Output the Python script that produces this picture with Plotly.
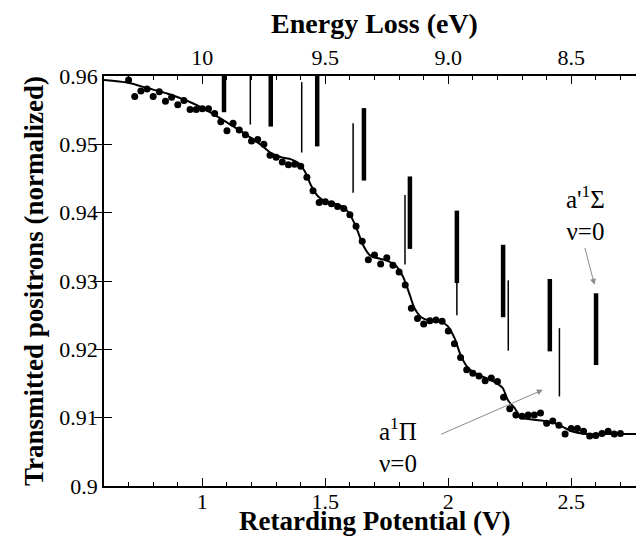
import plotly.graph_objects as go

# ---------------- data ----------------
voltage = [0.700, 0.725, 0.750, 0.775, 0.800, 0.825, 0.850, 0.875, 0.900, 0.925,
           0.950, 0.975, 1.000, 1.025, 1.050, 1.075, 1.100, 1.125, 1.150, 1.175,
           1.200, 1.225, 1.250, 1.275, 1.300, 1.325, 1.350, 1.375, 1.400, 1.425,
           1.450, 1.475, 1.500, 1.525, 1.550, 1.575, 1.600, 1.625, 1.650, 1.675,
           1.700, 1.725, 1.750, 1.775, 1.800, 1.825, 1.850, 1.875, 1.900, 1.925,
           1.950, 1.975, 2.000, 2.025, 2.050, 2.075, 2.100, 2.125, 2.150, 2.175,
           2.200, 2.225, 2.250, 2.275, 2.300, 2.325, 2.350, 2.375, 2.400, 2.425,
           2.450, 2.475, 2.500, 2.525, 2.550, 2.575, 2.600, 2.625, 2.650, 2.675,
           2.700]
transmitted = [0.9594, 0.9570, 0.9578, 0.9581, 0.9570, 0.9577, 0.9563, 0.9569, 0.9558, 0.9564,
               0.9551, 0.9551, 0.9552, 0.9552, 0.9545, 0.9533, 0.9520, 0.9531, 0.9521, 0.9514,
               0.9505, 0.9507, 0.9500, 0.9484, 0.9481, 0.9474, 0.9470, 0.9471, 0.9468, 0.9452,
               0.9432, 0.9415, 0.9416, 0.9413, 0.9409, 0.9406, 0.9397, 0.9380, 0.9358, 0.9331,
               0.9338, 0.9325, 0.9334, 0.9323, 0.9313, 0.9294, 0.9260, 0.9245, 0.9237, 0.9242,
               0.9243, 0.9241, 0.9227, 0.9208, 0.9188, 0.9170, 0.9165, 0.9161, 0.9154, 0.9158,
               0.9153, 0.9130, 0.9113, 0.9104, 0.9102, 0.9104, 0.9104, 0.9107, 0.9092, 0.9095,
               0.9089, 0.9076, 0.9084, 0.9084, 0.9080, 0.9073, 0.9074, 0.9077, 0.9080, 0.9076,
               0.9077]

fit_voltage = [0.600, 0.698, 0.779, 0.860, 0.942, 0.996, 1.050, 1.104, 1.158, 1.199,
               1.239, 1.280, 1.321, 1.361, 1.389, 1.416, 1.443, 1.470, 1.497, 1.538,
               1.572, 1.599, 1.626, 1.653, 1.680, 1.707, 1.741, 1.782, 1.815, 1.843,
               1.863, 1.890, 1.924, 1.965, 1.998, 2.026, 2.052, 2.080, 2.113, 2.161,
               2.202, 2.222, 2.242, 2.270, 2.296, 2.324, 2.378, 2.432, 2.473, 2.513,
               2.568, 2.622, 2.800]
fit_transmitted = [0.9594, 0.9590, 0.9582, 0.9574, 0.9563, 0.9554, 0.9543, 0.9531, 0.9519, 0.9509,
                   0.9499, 0.9487, 0.9481, 0.9478, 0.9473, 0.9461, 0.9439, 0.9424, 0.9417, 0.9413,
                   0.9408, 0.9398, 0.9378, 0.9353, 0.9338, 0.9334, 0.9331, 0.9324, 0.9307, 0.9280,
                   0.9260, 0.9247, 0.9242, 0.9241, 0.9234, 0.9216, 0.9190, 0.9173, 0.9164, 0.9157,
                   0.9149, 0.9143, 0.9126, 0.9114, 0.9100, 0.9098, 0.9096, 0.9092, 0.9085, 0.9079,
                   0.9076, 0.9076, 0.9076]

# vibrational level markers (thick: a'1Sigma series, thin: a1Pi series)
thick_v = [1.088, 1.278, 1.467, 1.657, 1.844, 2.035, 2.223, 2.413, 2.601]
thick_top = [0.9600, 0.9600, 0.9600, 0.9553, 0.9453, 0.9403, 0.9353, 0.9303, 0.9282]
thick_bottom = [0.9547, 0.9526, 0.9497, 0.9447, 0.9347, 0.9297, 0.9247, 0.9197, 0.9177]

thin_v = [1.195, 1.404, 1.613, 1.824, 2.035, 2.244, 2.452]
thin_top = [0.9600, 0.9591, 0.9531, 0.9426, 0.9350, 0.9301, 0.9231]
thin_bottom = [0.9529, 0.9488, 0.9429, 0.9324, 0.9250, 0.9198, 0.9131]

x_ticks = [1, 1.5, 2, 2.5]
x_ticktext = ["1", "1.5", "2", "2.5"]
y_ticks = [0.90, 0.91, 0.92, 0.93, 0.94, 0.95, 0.96]
y_ticktext = ["0.9", "0.91", "0.92", "0.93", "0.94", "0.95", "0.96"]
energy_ticks = [10.0, 9.5, 9.0, 8.5]
energy_ticktext = ["10", "9.5", "9.0", "8.5"]
energy_offset = 11.0  # Energy loss = 11.0 eV - retarding potential

FONT = "Liberation Serif"


def segments(xs, tops, bottoms):
    sx, sy = [], []
    for x, t, b in zip(xs, tops, bottoms):
        sx += [x, x, None]
        sy += [t, b, None]
    return sx, sy


fig = go.Figure()

tx, ty = segments(thick_v, thick_top, thick_bottom)
fig.add_trace(go.Scatter(x=tx, y=ty, mode="lines", line=dict(color="black", width=4.5),
                         showlegend=False, hoverinfo="skip"))
nx, ny = segments(thin_v, thin_top, thin_bottom)
fig.add_trace(go.Scatter(x=nx, y=ny, mode="lines", line=dict(color="black", width=1.5),
                         showlegend=False, hoverinfo="skip"))

fig.add_trace(go.Scatter(x=fit_voltage, y=fit_transmitted, mode="lines",
                         line=dict(color="black", width=2, shape="spline", smoothing=0.8),
                         showlegend=False))
fig.add_trace(go.Scatter(x=voltage, y=transmitted, mode="markers",
                         marker=dict(color="black", size=7),
                         showlegend=False))

# top axis (energy loss) carrier trace
fig.add_trace(go.Scatter(x=energy_ticks, y=[y_ticks[3]] * len(energy_ticks), xaxis="x2",
                         mode="markers", marker=dict(opacity=0), showlegend=False,
                         hoverinfo="skip"))

axis_common = dict(showline=True, linecolor="black", linewidth=1.5, ticks="inside",
                   tickcolor="black", tickwidth=1.2, showgrid=False, zeroline=False,
                   tickfont=dict(family=FONT, size=22, color="black"))

fig.update_layout(
    width=644, height=537,
    margin=dict(l=96, r=7, t=68, b=59),
    paper_bgcolor="white", plot_bgcolor="white",
    font=dict(family=FONT, color="black"),
    xaxis=dict(range=[0.6, 2.8], tickvals=x_ticks, ticktext=x_ticktext, ticklen=8,
               ticklabelstandoff=-5,
               minor=dict(dtick=0.1, ticks="inside", ticklen=4, tickcolor="black", tickwidth=1),
               automargin=False, **axis_common),
    xaxis2=dict(overlaying="x", side="top", anchor="y",
                range=[energy_offset - 0.6, energy_offset - 2.8],
                tickvals=energy_ticks, ticktext=energy_ticktext, ticklen=8,
                minor=dict(dtick=0.1, ticks="inside", ticklen=4, tickcolor="black", tickwidth=1),
                title=dict(text="<b>Energy Loss (eV)</b>", standoff=4,
                           font=dict(family=FONT, size=28, color="black")),
                automargin=False, **axis_common),
    yaxis=dict(range=[0.9, 0.96], tickvals=y_ticks, ticktext=y_ticktext, ticklen=8,
               mirror="allticks",
               title=dict(text="<b>Transmitted positrons (normalized)</b>", standoff=8,
                          font=dict(family=FONT, size=27, color="black")),
               automargin=False, **axis_common),
)

# bottom axis title
fig.add_annotation(x=0.5, y=-0.086, xref="paper", yref="paper", showarrow=False,
                   xanchor="center", yanchor="middle",
                   text="<b>Retarding Potential (V)</b>",
                   font=dict(family=FONT, size=27, color="black"))

ann_font = dict(family=FONT, size=25, color="black")
fig.add_annotation(x=2.3846, y=0.91407, ax=1.9646, ay=0.90748, xref="x", yref="y",
                   axref="x", ayref="y", showarrow=True, arrowhead=2, arrowsize=1.2,
                   arrowwidth=1, arrowcolor="#8c8c8c", text="")
fig.add_annotation(x=2.5947, y=0.92944, ax=2.554, ay=0.93507, xref="x", yref="y",
                   axref="x", ayref="y", showarrow=True, arrowhead=2, arrowsize=1.2,
                   arrowwidth=1, arrowcolor="#8c8c8c", text="")
fig.add_annotation(x=1.795, y=0.9060, xref="x", yref="y", showarrow=False,
                   text="a<sup>1</sup>Π<br>ν=0", font=ann_font)
fig.add_annotation(x=2.559, y=0.9400, xref="x", yref="y", showarrow=False,
                   text="a'<sup>1</sup>Σ<br>ν=0", font=ann_font)

fig.write_html("out.html")
